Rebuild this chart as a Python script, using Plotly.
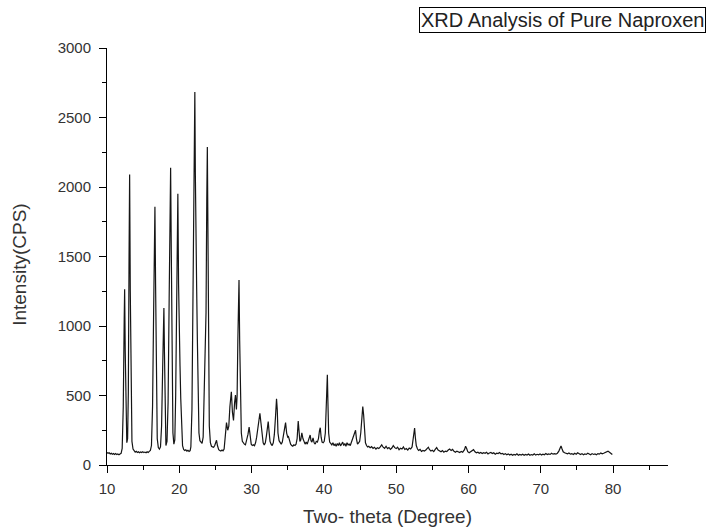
import plotly.graph_objects as go

# Powder XRD pattern of pure naproxen (2-theta in degrees, intensity in counts per second)
two_theta = [
    10.0, 10.15, 10.3, 10.45, 10.6, 10.75, 10.9, 11.05, 11.2, 11.35, 11.5, 11.65, 11.8, 11.95,
    12.1, 12.25, 12.38, 12.44, 12.52, 12.62, 12.74, 12.85, 12.95, 13.05, 13.13, 13.22, 13.32, 13.45,
    13.6, 13.75, 13.9, 14.05, 14.2, 14.35, 14.5, 14.65, 14.8, 14.95, 15.1, 15.25, 15.4, 15.55,
    15.7, 15.85, 16.0, 16.15, 16.3, 16.45, 16.55, 16.63, 16.72, 16.83, 16.95, 17.1, 17.25, 17.4,
    17.55, 17.7, 17.8, 17.87, 17.95, 18.05, 18.15, 18.3, 18.45, 18.6, 18.72, 18.8, 18.9, 19.0,
    19.12, 19.25, 19.38, 19.5, 19.62, 19.73, 19.8, 19.9, 20.0, 20.1, 20.2, 20.32, 20.45, 20.6,
    20.75, 20.9, 21.05, 21.2, 21.35, 21.5, 21.6, 21.75, 21.9, 22.02, 22.1, 22.15, 22.22, 22.3,
    22.4, 22.5, 22.6, 22.72, 22.85, 23.0, 23.15, 23.3, 23.45, 23.6, 23.7, 23.8, 23.88, 23.96,
    24.05, 24.15, 24.3, 24.45, 24.6, 24.75, 24.9, 25.05, 25.15, 25.28, 25.45, 25.6, 25.75, 25.9,
    26.05, 26.2, 26.35, 26.53, 26.7, 26.85, 27.0, 27.2, 27.35, 27.5, 27.65, 27.77, 27.9, 28.0,
    28.1, 28.2, 28.26, 28.35, 28.45, 28.58, 28.72, 28.85, 29.0, 29.15, 29.3, 29.5, 29.66, 29.8,
    29.95, 30.1, 30.25, 30.4, 30.55, 30.7, 30.85, 31.0, 31.15, 31.3, 31.45, 31.6, 31.75, 31.9,
    32.05, 32.2, 32.3, 32.42, 32.55, 32.7, 32.85, 33.0, 33.15, 33.3, 33.45, 33.55, 33.65, 33.8,
    33.95, 34.1, 34.25, 34.4, 34.55, 34.7, 34.85, 35.0, 35.1, 35.25, 35.4, 35.55, 35.7, 35.85,
    36.0, 36.15, 36.3, 36.45, 36.55, 36.68, 36.8, 36.95, 37.1, 37.25, 37.4, 37.55, 37.7, 37.85,
    38.0, 38.1, 38.22, 38.35, 38.5, 38.65, 38.8, 38.95, 39.1, 39.25, 39.4, 39.5, 39.62, 39.75,
    39.9, 40.05, 40.2, 40.32, 40.42, 40.48, 40.56, 40.66, 40.8, 40.95, 41.1, 41.25, 41.4, 41.55,
    41.7, 41.85, 42.0, 42.15, 42.3, 42.45, 42.6, 42.75, 42.9, 43.05, 43.2, 43.35, 43.5, 43.65,
    43.8, 43.95, 44.1, 44.25, 44.38, 44.5, 44.65, 44.8, 44.95, 45.1, 45.25, 45.38, 45.5, 45.62,
    45.75, 45.9, 46.05, 46.2, 46.4, 46.6, 46.8, 47.0, 47.2, 47.4, 47.6, 47.8, 48.0, 48.2,
    48.4, 48.6, 48.8, 49.0, 49.2, 49.4, 49.6, 49.8, 50.0, 50.2, 50.4, 50.6, 50.8, 51.0,
    51.2, 51.4, 51.6, 51.8, 52.0, 52.2, 52.35, 52.48, 52.55, 52.65, 52.78, 52.95, 53.1, 53.3,
    53.5, 53.7, 53.9, 54.1, 54.3, 54.45, 54.6, 54.8, 55.0, 55.2, 55.4, 55.6, 55.8, 56.0,
    56.2, 56.4, 56.6, 56.8, 57.0, 57.2, 57.4, 57.6, 57.8, 58.0, 58.2, 58.4, 58.6, 58.8,
    59.0, 59.2, 59.45, 59.6, 59.75, 59.9, 60.1, 60.3, 60.5, 60.7, 60.9, 61.1, 61.3, 61.5,
    61.7, 61.9, 62.1, 62.3, 62.5, 62.7, 62.9, 63.1, 63.3, 63.5, 63.7, 63.9, 64.1, 64.3,
    64.5, 64.7, 64.9, 65.1, 65.3, 65.5, 65.7, 65.9, 66.1, 66.3, 66.5, 66.7, 66.9, 67.1,
    67.3, 67.5, 67.7, 67.9, 68.1, 68.3, 68.5, 68.7, 68.9, 69.1, 69.3, 69.5, 69.7, 69.9,
    70.1, 70.3, 70.5, 70.7, 70.9, 71.1, 71.3, 71.5, 71.7, 71.9, 72.1, 72.3, 72.5, 72.65,
    72.8, 72.95, 73.1, 73.3, 73.5, 73.7, 73.9, 74.1, 74.3, 74.5, 74.7, 74.9, 75.1, 75.3,
    75.5, 75.7, 75.9, 76.1, 76.3, 76.5, 76.7, 76.9, 77.1, 77.3, 77.5, 77.7, 77.9, 78.1,
    78.3, 78.5, 78.7, 78.9, 79.1, 79.3, 79.5, 79.7, 79.9,
]

intensity = [
    90, 84, 88, 80, 85, 78, 83, 76, 82, 75, 80, 74, 79, 84,
    120, 420, 1050, 1265, 820, 330, 160, 190, 520, 1500, 2090, 1250, 420, 170,
    115, 100, 92, 98, 90, 95, 88, 94, 90, 96, 89, 93, 88, 95,
    90, 98, 105, 140, 420, 1100, 1650, 1858, 1300, 450, 190, 125, 115, 130,
    280, 700, 1050, 1129, 800, 300, 140, 170, 450, 1200, 1900, 2139, 1500, 600,
    230, 150, 180, 500, 1300, 1850, 1952, 1300, 750, 712, 480, 230, 140, 112,
    105, 110, 100, 106, 98, 104, 130, 400, 1200, 2200, 2620, 2683, 2100, 1400,
    1280, 900, 450, 230, 175, 160, 155, 200, 500, 770, 1100, 1900, 2288, 1700,
    700, 280, 160, 135, 130, 128, 140, 170, 178, 140, 110, 105, 100, 108,
    102, 115, 200, 305, 250, 280, 420, 527, 380, 320, 450, 503, 400, 500,
    900, 1320, 1330, 900, 450, 230, 170, 155, 150, 145, 170, 220, 273, 190,
    150, 140, 145, 138, 160, 200, 260, 330, 372, 300, 200, 160, 145, 160,
    210, 290, 312, 240, 170, 150, 140, 160, 220, 340, 477, 400, 230, 175,
    160, 150, 165, 210, 270, 305, 230, 200, 205, 170, 150, 140, 135, 145,
    140, 150, 190, 316, 260, 170, 180, 232, 190, 160, 150, 165, 150, 175,
    200, 216, 175, 165, 195, 160, 150, 170, 165, 190, 250, 268, 200, 165,
    160, 170, 230, 400, 620, 650, 450, 230, 165, 150, 145, 160, 140, 150,
    135, 155, 140, 160, 138, 150, 165, 140, 155, 135, 160, 145, 150, 140,
    165, 180, 200, 235, 250, 190, 150, 160, 170, 230, 330, 420, 360, 220,
    160, 140, 130, 135, 125, 132, 120, 128, 115, 124, 118, 130, 145, 128,
    120, 135, 118, 126, 112, 122, 140, 125, 118, 128, 110, 120, 115, 130,
    112, 118, 108, 122, 115, 130, 180, 250, 266, 200, 140, 115, 105, 112,
    98, 105, 100, 108, 118, 128, 112, 100, 106, 96, 112, 125, 108, 100,
    95, 104, 92, 100, 96, 108, 115, 104, 112, 98, 92, 100, 95, 90,
    98, 92, 110, 135, 118, 96, 88, 95, 100, 110, 95, 88, 92, 84,
    90, 82, 88, 84, 92, 80, 86, 90, 82, 88, 78, 85, 82, 90,
    80, 84, 76, 82, 74, 80, 72, 78, 70, 76, 72, 80, 70, 76,
    72, 78, 70, 76, 72, 79, 70, 75, 72, 80, 71, 77, 73, 80,
    72, 78, 74, 82, 75, 80, 76, 84, 78, 82, 78, 85, 100, 125,
    137, 115, 95, 88, 84, 80, 86, 78, 82, 76, 84, 78, 88, 80,
    76, 82, 74, 80, 76, 84, 78, 74, 82, 76, 80, 74, 82, 78,
    86, 80, 84, 90, 98, 100, 92, 82, 75,
]

x_ticks = [10, 20, 30, 40, 50, 60, 70, 80]
y_ticks = [0, 500, 1000, 1500, 2000, 2500, 3000]

FONT = "Liberation Sans, Arial, sans-serif"

fig = go.Figure()
fig.add_trace(go.Scatter(
    x=two_theta, y=intensity, mode="lines",
    line=dict(color="#151515", width=1.2),
    showlegend=False, hoverinfo="x+y",
))

axis_common = dict(
    showline=True, linecolor="#000000", linewidth=1,
    showgrid=False, zeroline=False,
    ticks="outside", ticklen=7, tickwidth=1, tickcolor="#000000",
    tickfont=dict(family=FONT, size=15, color="#333333"),
)

fig.update_xaxes(
    range=[10, 87.6], tickvals=x_ticks, ticktext=[str(v) for v in x_ticks],
    minor=dict(dtick=5, tick0=10, ticks="outside", ticklen=4, tickcolor="#000000"),
    ticklabelstandoff=3,
    **axis_common,
)
fig.update_yaxes(
    range=[0, 3000], tickvals=y_ticks, ticktext=[str(v) for v in y_ticks],
    minor=dict(dtick=250, tick0=0, ticks="outside", ticklen=4, tickcolor="#000000"),
    ticklabelstandoff=5,
    **axis_common,
)

fig.update_layout(
    width=708, height=527,
    margin=dict(l=107, r=40, t=48, b=62, pad=0),
    paper_bgcolor="#ffffff", plot_bgcolor="#ffffff",
    font=dict(family=FONT, color="#333333"),
    annotations=[
        dict(text="XRD Analysis of Pure Naproxen", xref="paper", yref="paper",
             x=1.0, xanchor="right", y=1.0, yanchor="bottom", yshift=15, xshift=38,
             showarrow=False, bordercolor="#000000", borderwidth=1, borderpad=1,
             font=dict(family=FONT, size=20, color="#222222")),
        dict(text="Two- theta (Degree)", xref="paper", yref="paper",
             x=0.5, xanchor="center", y=0, yanchor="top", yshift=-39,
             showarrow=False, font=dict(family=FONT, size=19, color="#333333")),
        dict(text="Intensity(CPS)", xref="paper", yref="paper",
             x=0, xanchor="center", y=0.48, yanchor="middle", xshift=-87,
             textangle=-90, showarrow=False,
             font=dict(family=FONT, size=19, color="#333333")),
    ],
)

fig.write_html("out.html")
